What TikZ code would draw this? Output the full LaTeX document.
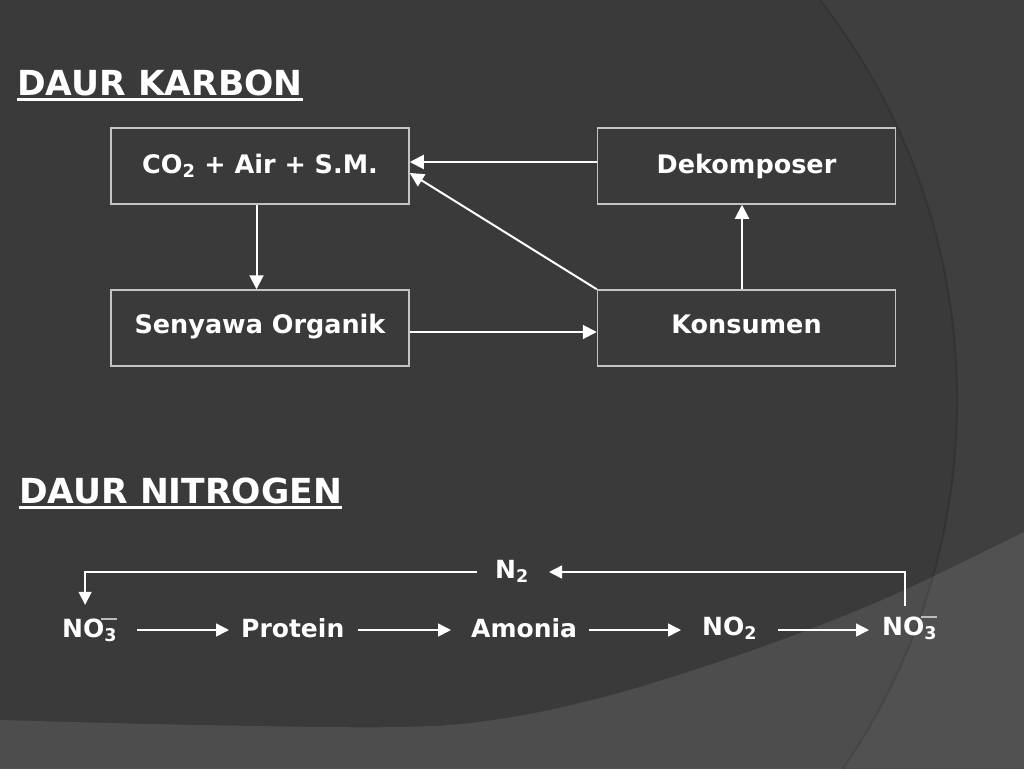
\documentclass[tikz,border=0pt]{standalone}
\usepackage{fontspec}
\setmainfont{DejaVu Sans}
\usetikzlibrary{arrows.meta,calc}
\definecolor{bgdark}{HTML}{3A3A3A}
\definecolor{bgright}{HTML}{3F3F3F}
\definecolor{bgedge}{HTML}{343434}
\definecolor{bglight}{HTML}{4D4D4D}
\definecolor{bglightr}{HTML}{515151}
\definecolor{bgedgel}{HTML}{464646}
\definecolor{boxline}{HTML}{C4C4C4}
\definecolor{barcol}{HTML}{BDBDBD}
\newcommand{\nothree}{NO\textsubscript{3}\llap{\textcolor{barcol}{\rule[0.7em]{0.66em}{1.5pt}}}}
\begin{document}
\begin{tikzpicture}[x=1pt,y=-1pt,
  box/.style={draw=boxline, line width=1.5pt, minimum width=298pt, minimum height=76pt,
    inner sep=0pt, text=white, font=\fontsize{25.5}{30}\selectfont\bfseries},
  toprow/.style={text height=19pt, text depth=5pt},
  botrow/.style={text height=18pt, text depth=8pt},
  karr/.style={draw=white, line width=2pt, -{Triangle[length=14pt,width=14pt]}},
  narr/.style={draw=white, line width=1.5pt, -{Triangle[length=13pt,width=13pt]}},
  lbl/.style={text=white, inner sep=0pt, anchor=base west, font=\fontsize{25}{30}\selectfont\bfseries},
  ttl/.style={text=white, inner sep=0pt, anchor=base west, font=\fontsize{34.5}{40}\selectfont\bfseries},
  uline/.style={draw=white, line width=3pt}]
\useasboundingbox (0,0) rectangle (1024,768);
\clip (0,0) rectangle (1024,768);
% background
\fill[bgright] (0,0) rectangle (1024,768);
\fill[bgdark] (305,400) circle[radius=652pt];
\draw[bgedge, line width=2pt] (305,400) circle[radius=652pt];
\fill[bglight] plot[smooth, tension=0.6] coordinates {(-20,719) (0,720) (200,725) (400,727) (500,719) (600,698) (700,668) (800,633) (900,592) (1024,532) (1044,521)} -- (1044,790) -- (-20,790) -- cycle;
\begin{scope}
  \clip plot[smooth, tension=0.6] coordinates {(-20,719) (0,720) (200,725) (400,727) (500,719) (600,698) (700,668) (800,633) (900,592) (1024,532) (1044,521)} -- (1044,790) -- (-20,790) -- cycle;
  \fill[bglightr, even odd rule] (0,0) rectangle (1024,768) (305,400) circle[radius=652pt];
  \draw[bgedgel, line width=2pt] (305,400) circle[radius=652pt];
\end{scope}

% titles
\node[ttl] (t1) at (17,95) {DAUR KARBON};
\draw[uline] ([yshift=-4pt]t1.base west) -- ([yshift=-4pt]t1.base east);
\node[ttl] (t2) at (19,503) {DAUR NITROGEN};
\draw[uline] ([yshift=-4pt]t2.base west) -- ([yshift=-4pt]t2.base east);

% carbon cycle boxes
\node[box, toprow] (co2) at (260,166) {CO\textsubscript{2} + Air + S.M.};
\node[box, toprow] (dek) at (746.5,166) {Dekomposer};
\node[box, botrow] (sen) at (260,328) {Senyawa Organik};
\node[box, botrow] (kon) at (746.5,328) {Konsumen};

\draw[karr] ([yshift=4pt]dek.west) -- ([yshift=4pt]co2.east);
\draw[karr] (kon.north west) -- ([yshift=-7pt]co2.east);
\draw[karr] ([xshift=-3.5pt]co2.south) -- ([xshift=-3.5pt]sen.north);
\draw[karr] ([yshift=-4pt]sen.east) -- ([yshift=-4pt]kon.west);
\draw[karr] ([xshift=-4.5pt]kon.north) -- ([xshift=-4.5pt]dek.south);

% nitrogen cycle
\coordinate (row) at (0,630);
\coordinate (top) at (0,572);
\node[lbl] (no3a) at (62,637) {\nothree};
\node[lbl] (prot) at (241,637) {Protein};
\node[lbl] (amon) at (471,637) {Amonia};
\node[lbl] (no2) at (702,635) {NO\textsubscript{2}};
\node[lbl] (no3b) at (882,635) {\nothree};
\node[lbl] (n2) at (495,578) {N\textsubscript{2}};

\draw[narr, shorten <=20pt, shorten >=12pt] (no3a.east |- row) -- (prot.west |- row);
\draw[narr, shorten <=13pt, shorten >=20pt] (prot.east |- row) -- (amon.west |- row);
\draw[narr, shorten <=12pt, shorten >=21pt] (amon.east |- row) -- (no2.west |- row);
\draw[narr, shorten <=21pt, shorten >=13pt] (no2.east |- row) -- (no3b.west |- row);

\draw[narr, shorten >=13pt] ($(n2.west |- top)+(-18,0)$) -| ($(no3a.north)+(-4.5,0)$);
\draw[narr, shorten <=10pt, shorten >=20pt] ($(no3b.north)+(-4.5,0)$) |- (n2.east |- top);
\end{tikzpicture}
\end{document}
